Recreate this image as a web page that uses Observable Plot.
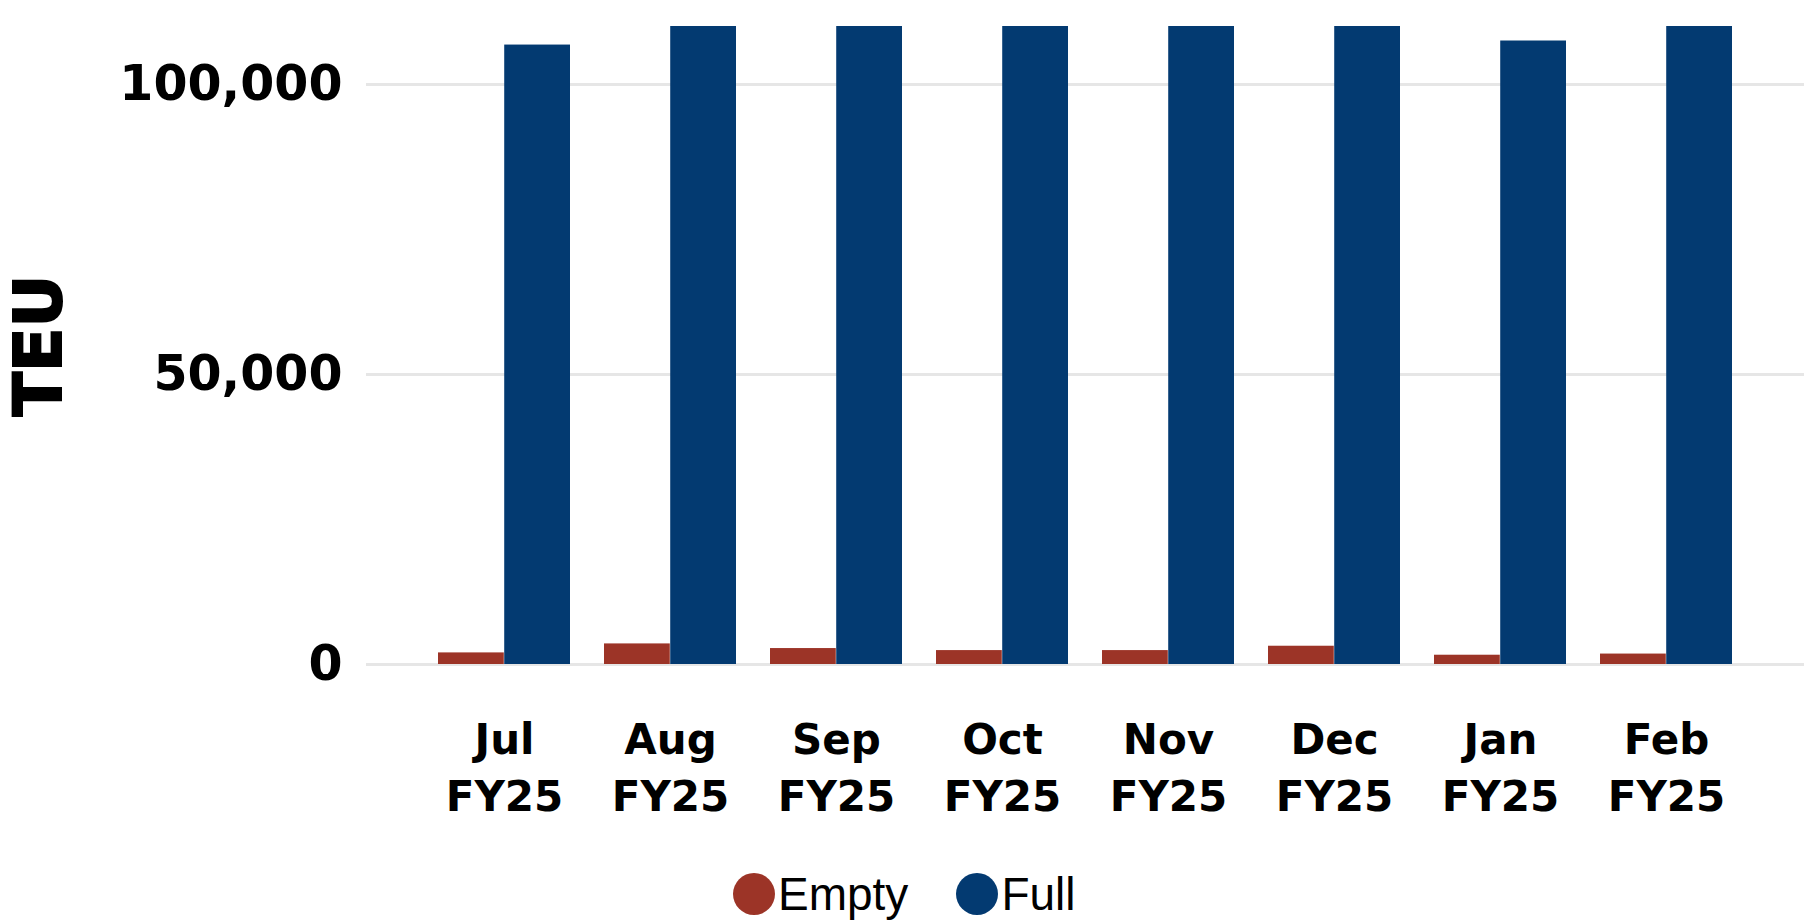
<!DOCTYPE html>
<html>
<head>
<meta charset="utf-8">
<script src="https://cdn.jsdelivr.net/npm/d3@7"></script>
<script src="https://cdn.jsdelivr.net/npm/@observablehq/plot@0.6"></script>
<style>
  html, body { margin: 0; padding: 0; background: #fff; }
  #chart { width: 1804px; }
  .legend { display: flex; align-items: center; font-family: "Liberation Sans", Arial, sans-serif; font-size: 46px; color: #000; margin-left: 733px; margin-top: 27px; }
  .legend .sw { display: inline-block; width: 42px; height: 42px; border-radius: 50%; margin-right: 3px; }
  .legend .item { display: flex; align-items: center; margin-right: 48px; }
</style>
</head>
<body>
<div id="chart"></div>
<script>
const months = ["Jul FY25", "Aug FY25", "Sep FY25", "Oct FY25", "Nov FY25", "Dec FY25", "Jan FY25", "Feb FY25"];
const series = ["Empty", "Full"];
const emptyValues = [2000, 3550, 2750, 2400, 2400, 3150, 1600, 1800];
const fullValues = [106800, 112000, 112000, 112000, 112000, 112000, 107500, 112000];
const colors = ["#9c3427", "#033a71"];
const yTicks = [0, 50000, 100000];

const emptyData = months.map((m, i) => ({month: m, series: "Empty", value: emptyValues[i]}));
const fullData = months.map((m, i) => ({month: m, series: "Full", value: fullValues[i]}));

const paddingInner = 0.207, paddingOuter = 0.409;
const plotWidth = 1804 - 366;
const step = plotWidth / (months.length - paddingInner + 2 * paddingOuter);
const half = step * (1 - paddingInner) / 2;

const chart = Plot.plot({
  width: 1804,
  height: 840,
  marginLeft: 366,
  marginRight: 0,
  marginTop: 26,
  marginBottom: 176,
  style: {fontFamily: "'DejaVu Sans', sans-serif", color: "#000", background: "#fff"},
  x: {domain: months, paddingInner, paddingOuter, label: null},
  y: {domain: [0, 110000], label: null},
  color: {domain: series, range: colors},
  marks: [
    Plot.ruleY(yTicks, {stroke: "#e6e6e6", strokeWidth: 3}),
    Plot.barY(emptyData, {x: "month", y: "value", fill: "series", insetRight: half, clip: true}),
    Plot.barY(fullData, {x: "month", y: "value", fill: "series", insetLeft: half, clip: true}),
    Plot.axisY({ticks: yTicks, tickFormat: d => d3.format(",")(d), tickSize: 0, tickPadding: 24, fontSize: 49, fontWeight: "bold", stroke: "currentColor", strokeWidth: 1.8, label: "TEU", labelAnchor: "center", labelArrow: "none", labelOffset: 352}),
    Plot.axisX({tickSize: 0, tickPadding: 49, fontSize: 42, fontWeight: "bold", stroke: "currentColor", strokeWidth: 1.5, lineHeight: 1.36, tickFormat: d => d.replace(" ", "\n"), label: null})
  ]
});
document.getElementById("chart").appendChild(chart);
chart.querySelectorAll("g[aria-label='y-axis label'] text").forEach(t => { t.setAttribute("font-size", 65); t.setAttribute("font-weight", "bold"); t.setAttribute("stroke", "currentColor"); t.setAttribute("stroke-width", 2); });

const legend = document.createElement("div");
legend.className = "legend";
series.forEach((s, i) => {
  const item = document.createElement("div");
  item.className = "item";
  const sw = document.createElement("span");
  sw.className = "sw";
  sw.style.background = colors[i];
  const label = document.createElement("span");
  label.textContent = s;
  item.appendChild(sw);
  item.appendChild(label);
  legend.appendChild(item);
});
document.getElementById("chart").appendChild(legend);
</script>
</body>
</html>
